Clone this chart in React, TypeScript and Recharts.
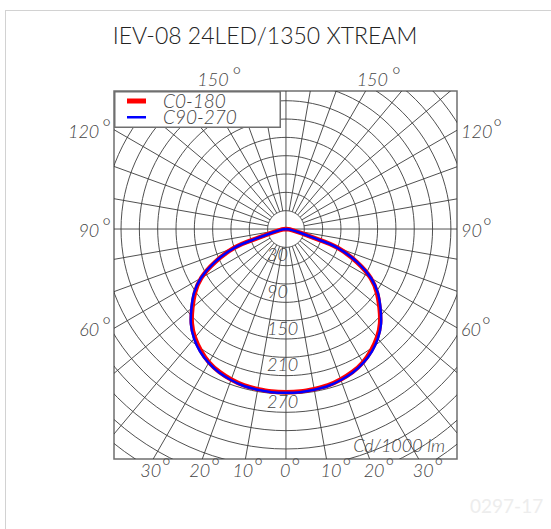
import React from 'react';
import { ComposedChart, Line, XAxis, YAxis, ReferenceArea, ReferenceDot, Legend } from 'recharts';

// ---- data ----
const title = 'IEV-08 24LED/1350 XTREAM';
const docCode = '0297-17';
const unitLabel = 'Cd/1000 lm';
const seriesNames = ['C0-180', 'C90-270'];
const seriesColors = ['#ff0000', '#0000ff'];

// gamma angles (deg from nadir) and luminous intensity (cd/1000 lm)
const angles = [0, 5, 10, 15, 20, 25, 30, 35, 40, 45, 50, 55, 60, 65, 70, 72, 75, 80, 85, 90];
const c0_180 = [267, 267, 266, 265, 262, 258, 252, 243, 232, 218, 200, 182, 160, 128, 90, 55, 25, 10, 4, 0];
const c90_270 = [268, 268, 267, 266, 263, 259, 253, 245, 234, 220, 202, 184, 161, 129, 90, 55, 25, 10, 4, 0];

const ringStep = 30;
const ringCount = 16;
const ringLabels = [30, 90, 150, 210, 270];
const spokeStep = 10;
const bottomTicks = [-30, -20, -10, 0, 10, 20, 30];
const sideTicks = [60, 90, 120];
const topTicks = [150];

// axis extents in cd
const X_MIN = -281.5;
const X_MAX = 280;
const Y_MIN = -376.4;
const Y_MAX = 225.9;

const toPt = (deg: number, r: number) => {
  const a = (deg * Math.PI) / 180;
  return { x: r * Math.sin(a), y: -r * Math.cos(a) };
};

const buildCurve = (vals: number[]) => {
  const left = angles.map((a, i) => toPt(-a, vals[i])).reverse();
  const right = angles.slice(1).map((a, i) => toPt(a, vals[i + 1]));
  return [...left, ...right];
};

const rings = Array.from({ length: ringCount }, (_, i) => {
  const r = (i + 1) * ringStep;
  const pts = [];
  for (let d = 0; d <= 360; d += 3) pts.push(toPt(d, r));
  return { r, pts };
});

const spokes = Array.from({ length: 360 / spokeStep }, (_, i) => {
  const d = i * spokeStep;
  const r0 = d % 90 === 0 ? 0 : ringStep;
  return { d, pts: [toPt(d, r0), toPt(d, 800)] };
});

const curves = [buildCurve(c0_180), buildCurve(c90_270)];

const labelStyle: React.CSSProperties = {
  fontFamily: "Lato, 'Liberation Sans', sans-serif",
  fontWeight: 300,
  fontStyle: 'italic',
  fontSize: 18,
  fill: '#444',
};

const degLabel = (text: string, anchor: 'start' | 'end', dx: number, dy: number, gap: number) =>
  (p: any) => (
    <text x={p.cx + dx} y={p.cy + dy} textAnchor={anchor} style={labelStyle}>
      {text}
      <tspan dx={gap} dy={-3} style={{ fontSize: 21, fontStyle: 'normal' }}>°</tspan>
    </text>
  );

const plainLabel = (text: string, anchor: 'start' | 'end', dx: number, dy: number) =>
  (p: any) => (
    <text x={p.cx + dx} y={p.cy + dy} textAnchor={anchor} style={labelStyle}>
      {text}
    </text>
  );

const renderLegend = () => (
  <svg width={167} height={37} style={{ display: 'block', overflow: 'visible' }}>
    <rect x={0.75} y={0.75} width={165.5} height={35.5} fill="#fff" stroke="#6f6f6f" strokeWidth={1.5} />
    <rect x={13} y={7.5} width={19} height={5} fill={seriesColors[0]} />
    <rect x={13} y={25} width={19} height={2.5} fill={seriesColors[1]} />
    <text x={49} y={16.5} style={{ ...labelStyle, fontSize: 19 }}>{seriesNames[0]}</text>
    <text x={49} y={33} style={{ ...labelStyle, fontSize: 19 }}>{seriesNames[1]}</text>
  </svg>
);

export default function App() {
  return (
    <div style={{ position: 'absolute', left: 0, top: 0, width: 551, height: 529, background: '#fff' }}>
      <div
        style={{
          position: 'absolute', left: 5, top: 10, width: 546, height: 519,
          borderTop: '1px solid #d2d2d2', borderLeft: '1px solid #d2d2d2',
        }}
      />
      <div
        style={{
          position: 'absolute', left: 0, width: 530, top: 20, textAlign: 'center',
          fontFamily: 'Lato, sans-serif', fontWeight: 300, fontSize: 23, color: '#222', lineHeight: '30px',
        }}
      >
        {title}
      </div>
      <div
        style={{
          position: 'absolute', left: 470, top: 495, fontFamily: 'Lato, sans-serif', fontWeight: 400,
          fontSize: 19, color: '#ededed', lineHeight: '22px',
        }}
      >
        {docCode}
      </div>
      <div style={{ position: 'absolute', left: 0, top: 0 }}>
        <ComposedChart width={551} height={529} margin={{ top: 91, left: 114, right: 94, bottom: 70 }}>
          <XAxis type="number" dataKey="x" domain={[X_MIN, X_MAX]} allowDataOverflow hide />
          <YAxis type="number" dataKey="y" domain={[Y_MIN, Y_MAX]} allowDataOverflow hide />
          {rings.map((rg) => (
            <Line
              key={'ring' + rg.r}
              data={rg.pts}
              dataKey="y"
              type="linear"
              stroke="#3c3c3c"
              strokeWidth={0.9}
              dot={false}
              activeDot={false}
              legendType="none"
              isAnimationActive={false}
            />
          ))}
          {spokes.map((s) => (
            <Line
              key={'spoke' + s.d}
              data={s.pts}
              dataKey="y"
              type="linear"
              stroke="#3c3c3c"
              strokeWidth={0.9}
              dot={false}
              activeDot={false}
              legendType="none"
              isAnimationActive={false}
            />
          ))}
          <ReferenceArea x1={X_MIN} x2={X_MAX} y1={Y_MIN} y2={Y_MAX} fill="none" stroke="#6f6f6f" strokeWidth={1.5} ifOverflow="visible" />
          {curves.map((c, i) => (
            <Line
              key={seriesNames[i]}
              name={seriesNames[i]}
              data={c}
              dataKey="y"
              type="natural"
              stroke={seriesColors[i]}
              strokeWidth={i === 0 ? 4.5 : 2.5}
              dot={false}
              activeDot={false}
              isAnimationActive={false}
            />
          ))}
          {ringLabels.map((v) => (
            <ReferenceDot key={'rl' + v} x={0} y={-v} r={0} ifOverflow="visible" shape={plainLabel(String(v), 'start', -19, 14)} />
          ))}
          {bottomTicks.map((t) => (
            <ReferenceDot
              key={'bt' + t}
              x={-Y_MIN * Math.tan((t * Math.PI) / 180)}
              y={Y_MIN}
              r={0}
              ifOverflow="visible"
              shape={degLabel(String(Math.abs(t)), 'start', t < 0 ? -13 : -6, 18, 1)}
            />
          ))}
          {sideTicks.map((t) => {
            const a = (t * Math.PI) / 180;
            return (
              <ReferenceDot
                key={'sl' + t}
                x={X_MIN}
                y={(X_MIN * Math.cos(a)) / Math.sin(a)}
                r={0}
                ifOverflow="visible"
                shape={degLabel(String(t), 'end', -3, 8, 3)}
              />
            );
          })}
          {sideTicks.map((t) => {
            const a = (t * Math.PI) / 180;
            return (
              <ReferenceDot
                key={'sr' + t}
                x={X_MAX}
                y={(-X_MAX * Math.cos(a)) / Math.sin(a)}
                r={0}
                ifOverflow="visible"
                shape={degLabel(String(t), 'start', 4, 8, 1)}
              />
            );
          })}
          {topTicks.flatMap((t) => {
            const a = (t * Math.PI) / 180;
            const xr = (-Y_MAX * Math.sin(a)) / Math.cos(a);
            return [-xr, xr].map((xx, j) => (
              <ReferenceDot
                key={'tt' + t + j}
                x={xx}
                y={Y_MAX}
                r={0}
                ifOverflow="visible"
                shape={degLabel(String(t), 'start', -9, -5, 4)}
              />
            ));
          })}
          <ReferenceDot x={X_MAX} y={Y_MIN} r={0} ifOverflow="visible" shape={plainLabel(unitLabel, 'end', -12, -7)} />
          <Legend
            layout="horizontal"
            verticalAlign="middle"
            align="center"
            content={renderLegend}
            wrapperStyle={{ left: 114, top: 91, width: 167, height: 37, margin: 0, padding: 0, lineHeight: 0 }}
          />
        </ComposedChart>
      </div>
    </div>
  );
}
